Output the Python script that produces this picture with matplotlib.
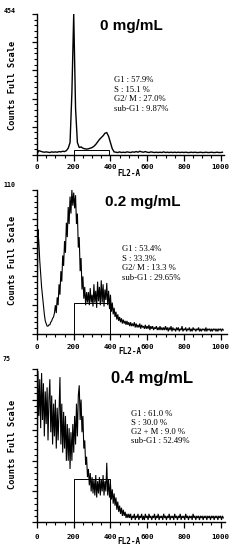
import numpy as np
import matplotlib
matplotlib.use("Agg")
import matplotlib.pyplot as plt
from matplotlib.ticker import MultipleLocator

# ---------------- data ----------------
panel_titles = ["0 mg/mL", "0.2 mg/mL", "0.4 mg/mL"]
full_scale = [454, 110, 75]
stats = [
    ["G1 : 57.9%", "S : 15.1 %", "G2/ M : 27.0%", "sub-G1 : 9.87%"],
    ["G1 : 53.4%", "S : 33.3%", "G2/ M : 13.3 %", "sub-G1 : 29.65%"],
    ["G1 : 61.0 %", "S : 30.0 %", "G2 + M : 9.0 %", "sub-G1 : 52.49%"],
]
gate_lo = [200, 200, 200]
gate_hi = [390, 400, 400]
gate_h = [15, 23.5, 21]
channel_step = [10, 5, 5]
tick_vals = [0, 200, 400, 600, 800, 1000]
tick_labels = ["0", "200", "400", "600", "800", "1000"]

# counts, 0 mg/mL (every 10 channels from 0)
p1_counts = [
    4, 14, 12, 10, 9, 10, 9, 8, 10, 9,
    10, 9, 11, 10, 12, 11, 14, 22, 40, 200,
    454, 150, 40, 24, 26, 22, 20, 19, 20, 22,
    24, 28, 34, 42, 50, 56, 62, 70, 72, 60,
    40, 20, 10, 9, 8, 10, 8, 9, 8, 10,
    9, 8, 10, 9, 11, 9, 12, 10, 9, 11,
    9, 8, 10, 9, 8, 9, 8, 9, 8, 10,
    8, 9, 8, 9, 8, 9, 8, 9, 8, 9,
    8, 9, 8, 8, 9, 8, 9, 8, 8, 9,
    8, 8, 9, 8, 8, 9, 8, 8, 9, 8,
    8, 9,
]
# counts, 0.2 mg/mL (every 5 channels from 0)
p2_counts = [
    3, 80, 70, 56, 46, 36, 29, 22, 15, 10,
    8, 6, 6, 7, 7, 9, 10, 12, 13, 16,
    22, 16, 28, 22, 38, 30, 48, 40, 60, 52,
    71, 62, 85, 74, 97, 84, 105, 92, 110, 98,
    108, 96, 106, 84, 92, 66, 74, 48, 58, 34,
    44, 27, 36, 22, 32, 24, 32, 22, 35, 24,
    30, 21, 38, 24, 33, 20, 40, 25, 36, 22,
    41, 24, 38, 21, 34, 26, 39, 22, 33, 19,
    30, 17, 24, 15, 20, 13, 17, 11, 15, 10,
    13, 9, 12, 8, 11, 8, 10, 7, 10, 7,
    9, 6, 9, 6, 8, 6, 9, 5, 8, 5,
    7, 5, 8, 4, 7, 5, 6, 4, 7, 4,
    6, 4, 7, 3, 6, 4, 6, 3, 5, 4,
    6, 3, 5, 3, 6, 3, 5, 3, 5, 3,
    6, 3, 5, 2, 5, 3, 6, 2, 5, 3,
    4, 2, 5, 3, 5, 2, 4, 3, 6, 2,
    4, 3, 5, 2, 4, 3, 5, 2, 4, 2,
    5, 3, 4, 2, 4, 3, 5, 2, 4, 2,
    4, 3, 4, 2, 5, 2, 4, 3, 4, 2,
    4, 2, 4, 3, 4, 2, 4, 2, 4, 3,
    4, 2, 4, 3,
]
# counts, 0.4 mg/mL (every 5 channels from 0)
p3_counts = [
    5, 74, 52, 70, 46, 73, 50, 68, 42, 64,
    48, 66, 40, 60, 70, 44, 62, 38, 58, 42,
    60, 36, 56, 40, 54, 71, 38, 58, 34, 54,
    36, 52, 30, 48, 30, 46, 26, 44, 30, 48,
    34, 52, 38, 58, 42, 62, 67, 50, 60, 44,
    52, 36, 40, 28, 32, 22, 26, 18, 24, 15,
    22, 14, 21, 13, 23, 12, 20, 14, 22, 13,
    21, 15, 23, 13, 20, 15, 29, 13, 21, 12,
    19, 11, 16, 9, 14, 8, 12, 6, 10, 5,
    8, 4, 7, 3, 6, 3, 5, 2, 4, 2,
    4, 2, 4, 1, 3, 2, 4, 1, 3, 2,
    4, 1, 3, 2, 4, 1, 3, 1, 4, 2,
    3, 1, 4, 2, 3, 1, 3, 2, 4, 1,
    3, 2, 4, 1, 3, 2, 3, 1, 4, 2,
    3, 1, 3, 2, 4, 1, 3, 2, 3, 1,
    4, 2, 3, 1, 3, 2, 4, 1, 3, 2,
    3, 1, 4, 2, 3, 1, 3, 2, 3, 1,
    4, 2, 3, 1, 3, 2, 3, 1, 3, 2,
    3, 1, 3, 2, 3, 1, 3, 2, 3, 1,
    3, 2, 3, 1, 3, 2, 3, 1, 3, 2,
    3, 1, 3, 2,
]
all_counts = [p1_counts, p2_counts, p3_counts]

# ---------------- layout (pixel boxes) ----------------
W, H = 244, 550
boxes = [(37, 14, 224, 155), (37, 190, 227, 334), (37, 369, 225, 522)]
px_per_ch = 0.1836
title_pos = [(100, 26), (105, 202), (111, 379)]
title_size = [11, 11, 12]
stats_pos = [(114, 80), (122, 249), (131, 414)]
stats_dy = [9.6, 9.6, 9.0]
scale_pos = [(10, 11), (9, 185), (7, 359)]
ylab_pos = [(13, 85), (13, 260), (13, 444)]
xlab_pos = [(129, 173), (130, 351.5), (129, 541.5)]
tick_pad = [2.6, 3.0, 4.6]
line_w = [1.0, 0.8, 0.8]

mono = "DejaVu Sans Mono"

fig = plt.figure(figsize=(W / 100, H / 100), dpi=100)
fig.patch.set_facecolor("white")

def fx(x):
    return x / W

def fy(y):
    return 1 - y / H

for i in range(3):
    l, t, r, b = boxes[i]
    ax = fig.add_axes([fx(l), fy(b), (r - l) / W, (b - t) / H])
    counts = np.array(all_counts[i], dtype=float)
    ch = np.arange(len(counts)) * channel_step[i]
    ax.plot(ch, counts, color="black", lw=line_w[i], solid_joinstyle="miter")
    ax.plot([gate_lo[i], gate_lo[i], gate_hi[i], gate_hi[i]],
            [0, gate_h[i], gate_h[i], 0], color="black", lw=0.7)
    ax.set_xlim(0, (r - l) / px_per_ch)
    ax.set_ylim(0, full_scale[i])
    for s in ["top", "right"]:
        ax.spines[s].set_visible(False)
    for s in ["left", "bottom"]:
        ax.spines[s].set_linewidth(1.0)
    ax.set_xticks(tick_vals)
    ax.set_xticklabels(tick_labels, fontfamily=mono, fontweight="bold", fontsize=5.3)
    ax.xaxis.set_minor_locator(MultipleLocator(50))
    ax.set_yticks(np.linspace(0, full_scale[i], 6))
    ax.set_yticklabels([])
    ax.yaxis.set_minor_locator(MultipleLocator(full_scale[i] / 25))
    ax.tick_params(axis="x", which="major", direction="out", length=4.2, width=0.9, pad=tick_pad[i])
    ax.tick_params(axis="x", which="minor", direction="out", length=1.8, width=0.8)
    ax.tick_params(axis="y", which="major", direction="out", length=3.6, width=0.9)
    ax.tick_params(axis="y", which="minor", direction="out", length=2.0, width=0.8)
    ax.set_facecolor("white")

    fig.text(fx(title_pos[i][0]), fy(title_pos[i][1]), panel_titles[i],
             fontfamily="Liberation Sans", fontweight="bold", fontsize=title_size[i],
             ha="left", va="center")
    sx, sy = stats_pos[i]
    for k, line in enumerate(stats[i]):
        fig.text(fx(sx), fy(sy + k * stats_dy[i]), line, fontfamily="Liberation Serif",
                 fontsize=6.2, ha="left", va="center")
    fig.text(fx(scale_pos[i][0]), fy(scale_pos[i][1]), str(full_scale[i]),
             fontfamily=mono, fontweight="bold", fontsize=4.8, ha="center", va="center")
    fig.text(fx(ylab_pos[i][0]), fy(ylab_pos[i][1]), "Counts Full Scale",
             fontfamily=mono, fontweight="bold", fontsize=6.2, rotation=90,
             ha="center", va="center")
    fig.text(fx(xlab_pos[i][0]), fy(xlab_pos[i][1]), "FL2-A",
             fontfamily=mono, fontweight="bold", fontsize=5.5, ha="center", va="center")

fig.savefig("out.png", dpi=100, facecolor="white")
